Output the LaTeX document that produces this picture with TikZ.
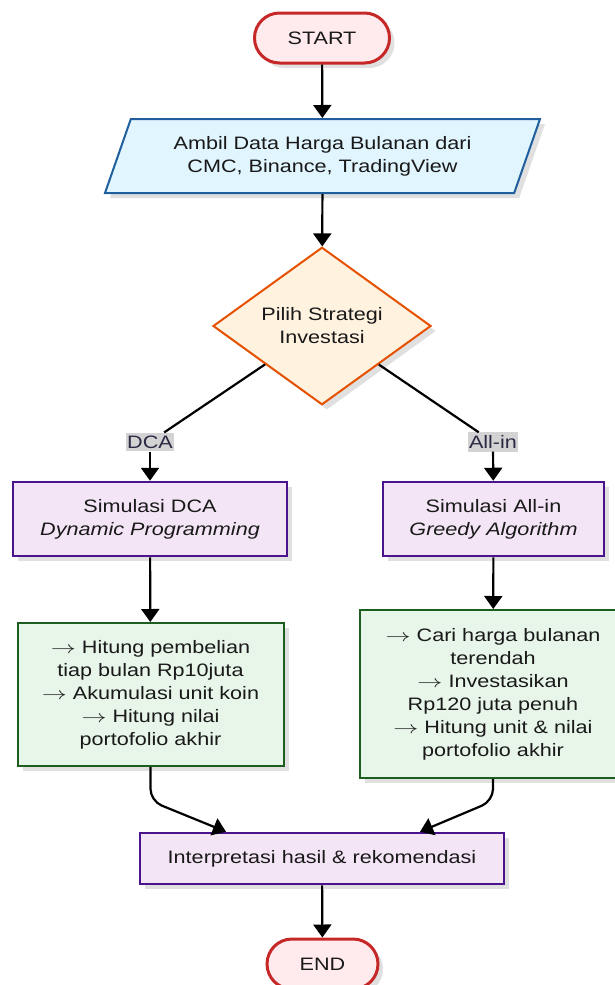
\documentclass[tikz,border=0pt]{standalone}
\usepackage{fontspec}
\usepackage{graphicx}
\setmainfont{Liberation Sans}[FakeStretch=1.2]
\usetikzlibrary{arrows.meta,shapes.geometric,shadows}
\definecolor{termline}{HTML}{C62828}
\definecolor{termfill}{HTML}{FFEBEE}
\definecolor{ioline}{HTML}{1F5F9E}
\definecolor{iofill}{HTML}{E1F5FE}
\definecolor{decline}{HTML}{E65100}
\definecolor{decfill}{HTML}{FFF3E0}
\definecolor{procline}{HTML}{4A148C}
\definecolor{procfill}{HTML}{F3E5F5}
\definecolor{stepline}{HTML}{1B5E20}
\definecolor{stepfill}{HTML}{E8F5E9}
\definecolor{tagfill}{HTML}{D3D3D3}
\definecolor{tagtext}{HTML}{2A2A45}
\newcommand{\stepmark}{\scalebox{1.45}[1]{\(\rightarrow\)}}

\begin{document}
\begin{tikzpicture}[x=1pt,y=-1pt,>={Triangle[width=18pt,length=13pt]},
 font=\fontsize{18}{23}\selectfont,text=black!90,
 shade/.style={drop shadow={shadow xshift=5pt,shadow yshift=-5pt,
 fill=black!12,opacity=1}},
 term/.style={shade,draw=termline,fill=termfill,line width=3pt,
 rounded corners=25pt,minimum height=50pt,inner sep=0pt},
 iobox/.style={shade,trapezium,trapezium left angle=57,
 trapezium right angle=123,trapezium stretches body,draw=ioline,
 fill=iofill,line width=2pt,align=center,inner sep=0pt},
 choicebox/.style={shade,diamond,draw=decline,fill=decfill,
 line width=2pt,align=center,inner sep=0pt},
 proc/.style={shade,draw=procline,fill=procfill,line width=2.5pt,
 align=center,minimum height=74pt,inner sep=0pt},
 stepbox/.style={shade,draw=stepline,fill=stepfill,line width=2pt,
 align=center,minimum width=266pt,inner sep=0pt},
 tag/.style={fill=tagfill,text=tagtext,inner xsep=1pt,inner ysep=3pt},
 flow/.style={->,line width=2.2pt},
 link/.style={line width=2.2pt}]
\useasboundingbox (0,0) rectangle (615,985);
\node[term,minimum width=135pt] (start) at (322,38) {START};
\node[iobox,minimum width=435pt,minimum height=74pt] (data) at (322.5,156)
 {Ambil Data Harga Bulanan dari\\CMC, Binance, TradingView};
\node[choicebox,minimum width=218pt,minimum height=155pt] (choice) at (322,326)
 {Pilih Strategi\\Investasi};
\node[tag] (dcatag) at (150,442) {DCA};
\node[tag] (alltag) at (493,442) {All-in};
\node[proc,minimum width=274pt] (dcasim) at (150,519)
 {Simulasi DCA\\\textit{Dynamic Programming}};
\node[proc,minimum width=221pt] (allsim) at (493.5,519)
 {Simulasi All-in\\\textit{Greedy Algorithm}};
\node[stepbox,minimum height=143pt] (dcastep) at (150.5,694.5)
 {\stepmark{} Hitung pembelian\\tiap bulan Rp10juta\\
 \stepmark{} Akumulasi unit koin\\\stepmark{} Hitung nilai\\portofolio akhir};
\node[stepbox,minimum height=168pt] (allstep) at (493,694)
 {\stepmark{} Cari harga bulanan\\terendah\\\stepmark{} Investasikan\\
 Rp120 juta penuh\\\stepmark{} Hitung unit \& nilai\\portofolio akhir};
\node[proc,minimum width=364pt,minimum height=51pt] (final) at (322,858.5)
 {Interpretasi hasil \& rekomendasi};
\node[term,minimum width=111pt] (stop) at (322.5,964) {END};
\draw[flow] (start) -- (data);
\draw[flow] (data) -- (choice);
\draw[link] (choice) -- (dcatag);
\draw[link] (choice) -- (alltag);
\draw[flow] (dcatag) -- (dcasim);
\draw[flow] (alltag) -- (allsim);
\draw[flow] (dcasim) -- (dcastep);
\draw[flow] (allsim) -- (allstep);
\draw[flow,rounded corners=12pt] (dcastep.south) -- ++(0,34)
 -- ([xshift=-96pt]final.north);
\draw[flow,rounded corners=12pt] (allstep.south) -- ++(0,22)
 -- ([xshift=98pt]final.north);
\draw[flow] (final) -- (stop);
\end{tikzpicture}
\end{document}
